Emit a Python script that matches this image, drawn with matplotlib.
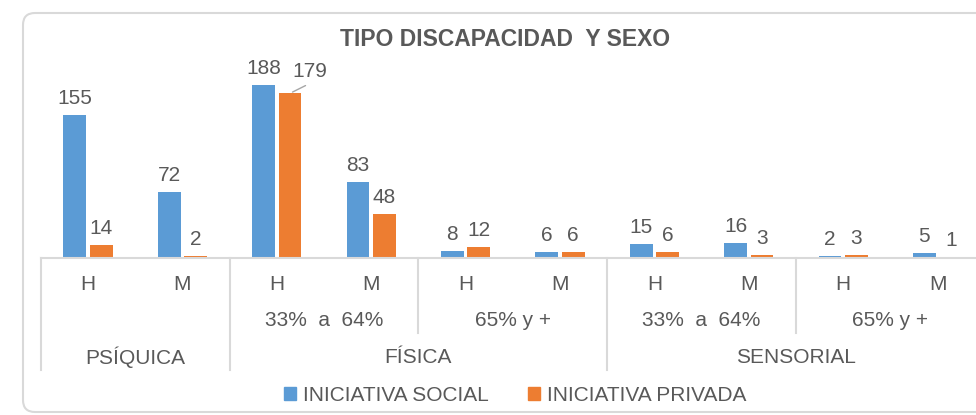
import numpy as np
import matplotlib
matplotlib.use("Agg")
import matplotlib.pyplot as plt
from matplotlib.patches import FancyBboxPatch, Patch
from matplotlib.lines import Line2D
from matplotlib.transforms import IdentityTransform

plt.rcParams['font.family'] = ['Liberation Sans', 'DejaVu Sans']

# datos
sexo = ["H", "M", "H", "M", "H", "M", "H", "M", "H", "M"]
grado = ["33%  a  64%", "65% y +", "33%  a  64%", "65% y +"]
tipo = ["PSÍQUICA", "FÍSICA", "SENSORIAL"]
social = [155, 72, 188, 83, 8, 6, 15, 16, 2, 5]
privada = [14, 2, 179, 48, 12, 6, 6, 3, 3, 1]

azul = "#5B9BD5"
naranja = "#ED7D31"
gris = "#595959"
linea = "#D9D9D9"
fs = 15

W, H = 976, 415
fig = plt.figure(figsize=(W / 100, H / 100), dpi=100)

# marco redondeado
marco = FancyBboxPatch((23, 3), 1000, 399, boxstyle="round,pad=0,rounding_size=12",
                       transform=IdentityTransform(), facecolor="white",
                       edgecolor=linea, linewidth=1.5, zorder=-10)
fig.patches.append(marco)

base_px = 258  # linea base (desde arriba)
top_px = 60
alto_px = base_px - top_px
ax = fig.add_axes([40.8 / W, (H - base_px) / H, 944 / W, alto_px / H])
ax.set_facecolor("none")

x = np.arange(len(sexo))
ancho = 0.24
off = 0.14
ax.bar(x - off, social, ancho, color=azul)
ax.bar(x + off, privada, ancho, color=naranja)
ax.set_xlim(-0.5, 9.5)
ax.set_ylim(0, alto_px / 0.92)

for s in ["top", "right", "left"]:
    ax.spines[s].set_visible(False)
ax.spines["bottom"].set_color(linea)
ax.spines["bottom"].set_linewidth(1.5)
ax.set_yticks([])
ax.set_xticks([])

# etiquetas de datos
for i in range(len(sexo)):
    ax.annotate(str(social[i]), (x[i] - off, social[i]), xytext=(0, 11),
                textcoords="offset pixels", ha="center", va="baseline",
                fontsize=fs, color=gris)
    if i == 2:
        ax.annotate(str(privada[i]), (x[i] + off, privada[i]), xytext=(20, 16),
                    textcoords="offset pixels", ha="center", va="baseline",
                    fontsize=fs, color=gris)
        ax.annotate("", (x[i] + off, privada[i]), xytext=(18, 9),
                    textcoords="offset pixels",
                    arrowprops=dict(arrowstyle="-", color="#A6A6A6", lw=1))
    else:
        ax.annotate(str(privada[i]), (x[i] + off, privada[i]), xytext=(0, 11),
                    textcoords="offset pixels", ha="center", va="baseline",
                    fontsize=fs, color=gris)

# eje de categorias en varios niveles
tr = ax.get_xaxis_transform()


def fy(px):
    return -px / alto_px


for i, s in enumerate(sexo):
    ax.text(i, fy(26), s, transform=tr, ha="center", va="center", fontsize=fs, color=gris)

for j, g in enumerate(grado):
    ax.text(2.5 + 2 * j, fy(63), g, transform=tr, ha="center", va="center", fontsize=fs, color=gris)

centros_tipo = [0.5, 3.5, 7.5]
for c, t in zip(centros_tipo, tipo):
    ax.text(c, fy(99), t, transform=tr, ha="center", va="center", fontsize=fs, color=gris)

for xs in [-0.5, 1.5, 5.5]:
    ax.add_line(Line2D([xs, xs], [0, fy(112)], transform=tr, color=linea, lw=1.5, clip_on=False))
for xs in [3.5, 7.5]:
    ax.add_line(Line2D([xs, xs], [0, fy(75)], transform=tr, color=linea, lw=1.5, clip_on=False))

fig.text(505 / W, 1 - 40 / H, "TIPO DISCAPACIDAD  Y SEXO", ha="center", va="center",
         fontsize=16.5, fontweight="bold", color=gris)

handles = [Patch(color=azul, label="INICIATIVA SOCIAL"),
           Patch(color=naranja, label="INICIATIVA PRIVADA")]
fig.legend(handles=handles, loc="center", bbox_to_anchor=(515 / W, 20 / H), ncol=2,
           frameon=False, fontsize=fs, labelcolor=gris, handlelength=0.6,
           handleheight=0.6, handletextpad=0.3, columnspacing=1.9)

fig.savefig("out.png", dpi=100)
